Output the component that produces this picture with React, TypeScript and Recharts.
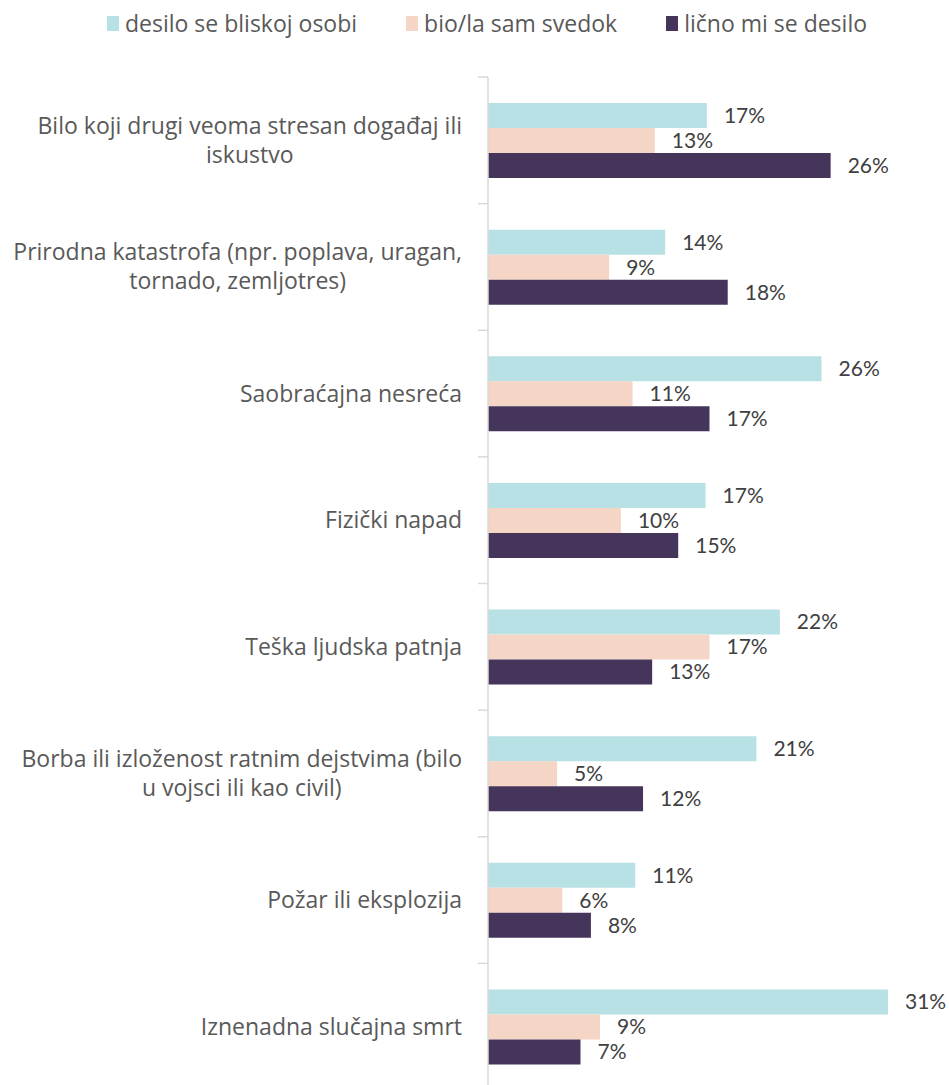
import { Bar, BarChart, LabelList, Legend, XAxis, YAxis } from "recharts";

const categories = [
  "Bilo koji drugi veoma stresan događaj ili iskustvo",
  "Prirodna katastrofa (npr. poplava, uragan, tornado, zemljotres)",
  "Saobraćajna nesreća",
  "Fizički napad",
  "Teška ljudska patnja",
  "Borba ili izloženost ratnim dejstvima (bilo u vojsci ili kao civil)",
  "Požar ili eksplozija",
  "Iznenadna slučajna smrt",
];

// percent of respondents
const closePerson = [16.8, 13.6, 25.6, 16.7, 22.4, 20.6, 11.3, 30.7];
const witnessed = [12.8, 9.3, 11.1, 10.2, 17.0, 5.3, 5.7, 8.6];
const personally = [26.3, 18.4, 17.0, 14.6, 12.6, 11.9, 7.9, 7.1];

const seriesNames = ["desilo se bliskoj osobi", "bio/la sam svedok", "lično mi se desilo"];
const colors = ["#B8E1E6", "#F5D5C6", "#46355B"];

const data = categories.map((name, i) => ({
  name,
  close: closePerson[i],
  witness: witnessed[i],
  self: personally[i],
}));

const WIDTH = 949;
const HEIGHT = 1095;
const MARGIN = { top: 77, right: 5, bottom: 5, left: 0 };
const BAND = (HEIGHT - MARGIN.top - MARGIN.bottom) / categories.length;
const TEXT_FONT = "'Open Sans', 'Noto Sans', sans-serif";
const LABEL_FONT = "Lato, 'Noto Sans', sans-serif";
const TEXT_SIZE = 23;
const WRAP_WIDTH = 454;
const LINE_HEIGHT = 29;

let ctx: CanvasRenderingContext2D | null = null;
const measure = (s: string) => {
  if (!ctx) {
    ctx = document.createElement("canvas").getContext("2d");
    if (ctx) ctx.font = `${TEXT_SIZE}px 'Open Sans'`;
  }
  return ctx ? ctx.measureText(s).width : s.length * 11;
};

const wrap = (text: string) => {
  const words = text.split(" ");
  const lines: string[] = [];
  let cur = "";
  for (const w of words) {
    const next = cur ? `${cur} ${w}` : w;
    if (cur && measure(next) > WRAP_WIDTH) {
      lines.push(cur);
      cur = w;
    } else cur = next;
  }
  if (cur) lines.push(cur);
  return lines;
};

const CategoryTick = (props: any) => {
  const { x, y, payload, index } = props;
  const lines = wrap(String(payload.value));
  const blockW = Math.max(...lines.map(measure));
  const cx = lines.length > 1 ? x - blockW / 2 : x;
  const startY = y - ((lines.length - 1) * LINE_HEIGHT) / 2;
  const axisX = x + 26;
  return (
    <g>
      <line x1={axisX - 10} x2={axisX} y1={y - BAND / 2} y2={y - BAND / 2} stroke="#D9D9D9" strokeWidth={1.5} />
      {index === categories.length - 1 && (
        <line x1={axisX - 10} x2={axisX} y1={y + BAND / 2} y2={y + BAND / 2} stroke="#D9D9D9" strokeWidth={1.5} />
      )}
      <text
        x={cx}
        y={startY}
        textAnchor={lines.length > 1 ? "middle" : "end"}
        fill="#595959"
        fontSize={TEXT_SIZE}
        fontFamily={TEXT_FONT}
      >
        {lines.map((l, i) => (
          <tspan key={i} x={cx} y={startY + i * LINE_HEIGHT} dy="0.35em">
            {l}
          </tspan>
        ))}
      </text>
    </g>
  );
};

const LegendContent = () => (
  <div style={{ display: "flex", alignItems: "center", paddingLeft: 107, fontFamily: TEXT_FONT, fontSize: TEXT_SIZE, color: "#595959" }}>
    {seriesNames.map((n, i) => (
      <div key={n} style={{ display: "flex", alignItems: "center", marginRight: 49 }}>
        <span style={{ display: "inline-block", width: 12, height: 15, background: colors[i], marginRight: 6 }} />
        <span>{n}</span>
      </div>
    ))}
  </div>
);

const pct = (v: any) => `${Math.round(Number(v))}%`;
const labelStyle = { fill: "#404040", fontSize: 21, fontFamily: LABEL_FONT };

export default function App() {
  return (
    <div style={{ position: "absolute", left: 0, top: 0, width: WIDTH, height: 1085, overflow: "hidden", background: "#fff" }}>
      <BarChart
        width={WIDTH}
        height={HEIGHT}
        data={data}
        layout="vertical"
        margin={MARGIN}
        barSize={25}
        barGap={0}
      >
        <XAxis type="number" domain={[0, 35]} hide />
        <YAxis
          type="category"
          dataKey="name"
          width={488}
          tickSize={10}
          tickMargin={16}
          tickLine={false}
          axisLine={{ stroke: "#D9D9D9", strokeWidth: 1.5 }}
          tick={<CategoryTick />}
          interval={0}
        />
        <Legend
          content={<LegendContent />}
          verticalAlign="middle"
          align="center"
          wrapperStyle={{ top: 7, left: 0, width: WIDTH, height: 32 }}
        />
        <Bar dataKey="close" name={seriesNames[0]} fill={colors[0]} isAnimationActive={false}>
          <LabelList dataKey="close" position="right" offset={17} formatter={pct} style={labelStyle} />
        </Bar>
        <Bar dataKey="witness" name={seriesNames[1]} fill={colors[1]} isAnimationActive={false}>
          <LabelList dataKey="witness" position="right" offset={17} formatter={pct} style={labelStyle} />
        </Bar>
        <Bar dataKey="self" name={seriesNames[2]} fill={colors[2]} isAnimationActive={false}>
          <LabelList dataKey="self" position="right" offset={17} formatter={pct} style={labelStyle} />
        </Bar>
      </BarChart>
    </div>
  );
}
